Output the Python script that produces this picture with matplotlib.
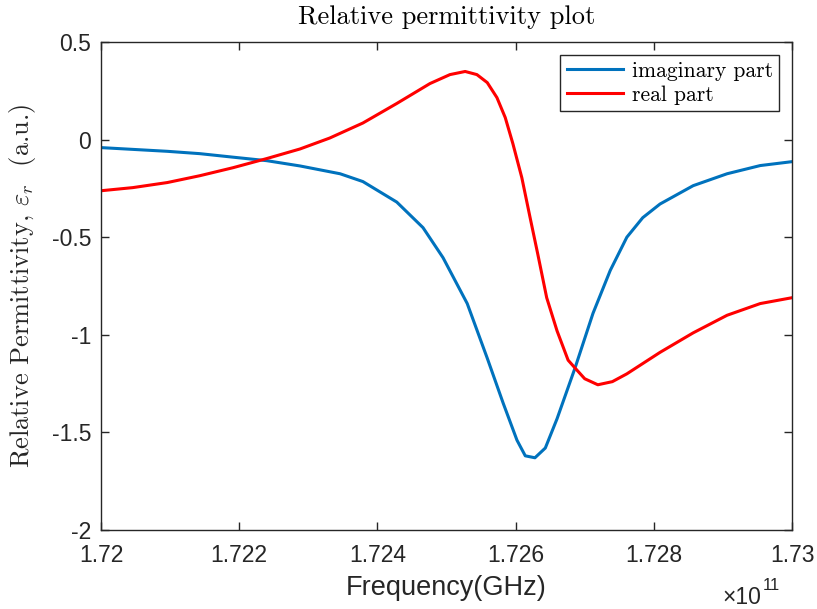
import matplotlib
matplotlib.use("Agg")
import matplotlib.pyplot as plt
from matplotlib.ticker import FuncFormatter

plt.rcParams['mathtext.fontset'] = 'cm'
plt.rcParams['font.family'] = ['Liberation Sans', 'DejaVu Sans']

# Imaginary part (frequency in Hz)
freq_imag = [1.72000e11, 1.72096e11, 1.72143e11, 1.72191e11, 1.72240e11, 1.72288e11,
             1.72346e11, 1.72379e11, 1.72428e11, 1.72466e11, 1.72495e11, 1.72530e11,
             1.72559e11, 1.72582e11, 1.72602e11, 1.72614e11, 1.72628e11, 1.72643e11,
             1.72660e11, 1.72686e11, 1.72712e11, 1.72737e11, 1.72761e11, 1.72784e11,
             1.72809e11, 1.72857e11, 1.72906e11, 1.72954e11, 1.73000e11]
eps_imag = [-0.041, -0.060, -0.072, -0.090, -0.108, -0.135,
            -0.175, -0.215, -0.320, -0.451, -0.605, -0.840,
            -1.120, -1.350, -1.540, -1.620, -1.630, -1.580,
            -1.430, -1.170, -0.890, -0.670, -0.500, -0.400,
            -0.330, -0.236, -0.175, -0.133, -0.113]

# Real part
freq_real = [1.72000e11, 1.72046e11, 1.72096e11, 1.72143e11, 1.72191e11, 1.72240e11,
             1.72288e11, 1.72331e11, 1.72379e11, 1.72428e11, 1.72476e11, 1.72505e11,
             1.72527e11, 1.72544e11, 1.72559e11, 1.72573e11, 1.72585e11, 1.72596e11,
             1.72609e11, 1.72621e11, 1.72632e11, 1.72645e11, 1.72660e11, 1.72676e11,
             1.72686e11, 1.72700e11, 1.72719e11, 1.72740e11, 1.72761e11, 1.72809e11,
             1.72857e11, 1.72906e11, 1.72954e11, 1.73000e11]
eps_real = [-0.262, -0.246, -0.220, -0.185, -0.144, -0.097,
            -0.048, 0.008, 0.085, 0.185, 0.287, 0.333,
            0.349, 0.333, 0.292, 0.215, 0.113, -0.020,
            -0.195, -0.400, -0.585, -0.810, -0.980, -1.130,
            -1.170, -1.225, -1.256, -1.240, -1.200, -1.090,
            -0.990, -0.900, -0.840, -0.810]

xticks = [1.720e11, 1.722e11, 1.724e11, 1.726e11, 1.728e11, 1.730e11]
yticks = [-2, -1.5, -1, -0.5, 0, 0.5]

fig = plt.figure(figsize=(8.17, 6.09), dpi=100)
ax = fig.add_axes([101/817, 1-530/609, (792-101)/817, (530-42)/609])

ax.plot(freq_imag, eps_imag, color='#0072BD', lw=2.2, label='imaginary part')
ax.plot(freq_real, eps_real, color='#FF0000', lw=2.2, label='real part')

ax.set_xlim(1.72e11, 1.73e11)
ax.set_ylim(-2, 0.5)
ax.set_xticks(xticks)
ax.set_yticks(yticks)
ax.xaxis.set_major_formatter(FuncFormatter(lambda v, p: '%g' % round(v / 1e11, 4)))
ax.yaxis.set_major_formatter(FuncFormatter(lambda v, p: '%g' % v))

axcol = '#262626'
for s in ax.spines.values():
    s.set_color(axcol)
    s.set_linewidth(1.0)
ax.tick_params(axis='both', direction='in', length=6, width=1.0, colors=axcol,
               top=True, right=True, labelsize=16.5)
ax.tick_params(axis='x', pad=10)
ax.tick_params(axis='y', pad=7)

ax.set_xlabel('Frequency(GHz)', fontsize=19.5, color=axcol, labelpad=6)
ax.set_ylabel(r'Relative Permittivity, $\varepsilon_r$  (a.u.)', family='cmr10',
              fontsize=19, color=axcol, labelpad=10)
ax.set_title('Relative permittivity plot', family='cmr10', fontsize=19,
             color='black', pad=13)

leg = ax.legend(loc='upper right', prop={'family': 'cmr10', 'size': 15.5},
                frameon=True, fancybox=False,
                borderpad=0.3, labelspacing=0.2, handlelength=2.6, handletextpad=0.4,
                borderaxespad=0.6)
leg.get_frame().set_edgecolor(axcol)
leg.get_frame().set_linewidth(1.0)
leg.get_frame().set_alpha(1)

fig.text(722/817, 1-597/609, '\u00d710', fontsize=16.5, color=axcol, va='center', ha='left')
fig.text(763/817, 1-585/609, '11', fontsize=12, color=axcol, va='center', ha='left')

fig.savefig('out.png', dpi=100)
